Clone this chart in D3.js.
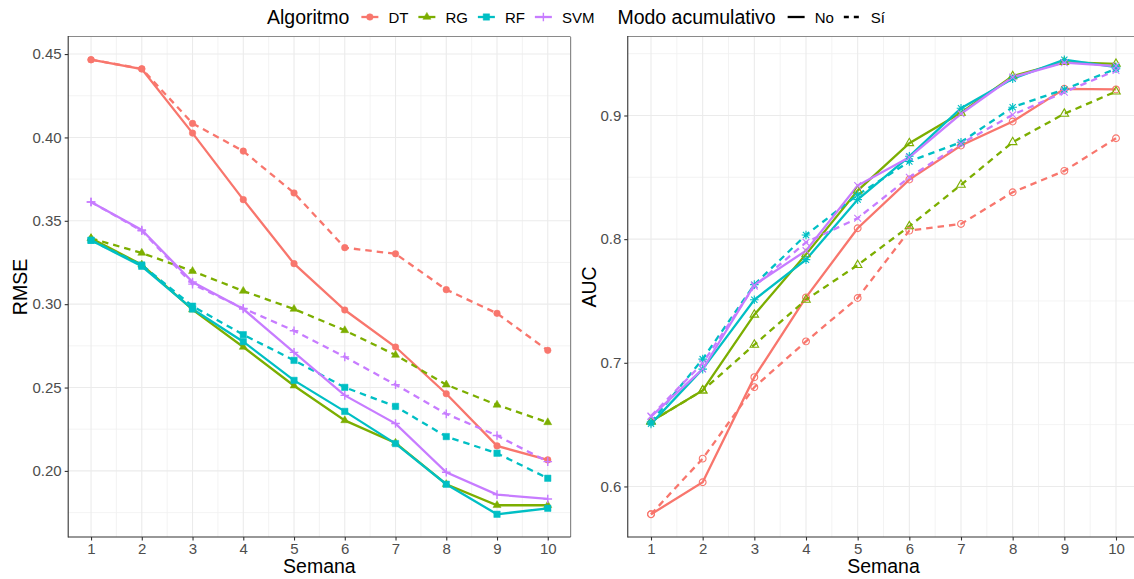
<!DOCTYPE html>
<html>
<head>
<meta charset="utf-8">
<script src="https://cdn.jsdelivr.net/npm/d3@7/dist/d3.min.js"></script>
<style>
  html, body { margin: 0; padding: 0; background: #ffffff; }
  svg { display: block; font-family: "Liberation Sans", Arial, Helvetica, sans-serif; }
</style>
</head>
<body>
<svg id="chart" width="1134" height="579"></svg>
<script>
// ---- data ----
const semanas = [1, 2, 3, 4, 5, 6, 7, 8, 9, 10];
const algoritmos = ["DT", "RG", "RF", "SVM"];
const modos = ["No", "Sí"];
const colores = ["#F8766D", "#7CAE00", "#00BFC4", "#C77CFF"];

const rmseTicks = [0.20, 0.25, 0.30, 0.35, 0.40, 0.45];
const aucTicks = [0.6, 0.7, 0.8, 0.9];

// RMSE por semana
const rmseDT_No  = [0.4466, 0.4410, 0.4026, 0.3627, 0.3243, 0.2965, 0.2743, 0.2463, 0.2150, 0.2066];
const rmseDT_Si  = [0.4466, 0.4412, 0.4084, 0.3918, 0.3667, 0.3339, 0.3302, 0.3087, 0.2945, 0.2723];
const rmseRG_No  = [0.3395, 0.3237, 0.2967, 0.2743, 0.2511, 0.2303, 0.2168, 0.1920, 0.1794, 0.1794];
const rmseRG_Si  = [0.3395, 0.3307, 0.3198, 0.3079, 0.2971, 0.2843, 0.2695, 0.2517, 0.2396, 0.2291];
const rmseRF_No  = [0.3383, 0.3227, 0.2971, 0.2775, 0.2543, 0.2357, 0.2164, 0.1920, 0.1740, 0.1776];
const rmseRF_Si  = [0.3383, 0.3235, 0.2988, 0.2817, 0.2663, 0.2501, 0.2387, 0.2206, 0.2106, 0.1956];
const rmseSVM_No = [0.3613, 0.3445, 0.3133, 0.2971, 0.2711, 0.2453, 0.2284, 0.1992, 0.1858, 0.1832];
const rmseSVM_Si = [0.3613, 0.3440, 0.3120, 0.2975, 0.2841, 0.2684, 0.2517, 0.2342, 0.2212, 0.2056];

// AUC por semana
const aucDT_No  = [0.5775, 0.6034, 0.6884, 0.7529, 0.8088, 0.8482, 0.8757, 0.8951, 0.9216, 0.9211];
const aucDT_Si  = [0.5775, 0.6225, 0.6803, 0.7173, 0.7524, 0.8069, 0.8123, 0.8379, 0.8552, 0.8816];
const aucRG_No  = [0.6525, 0.6776, 0.7389, 0.7877, 0.8393, 0.8776, 0.9022, 0.9318, 0.9432, 0.9418];
const aucRG_Si  = [0.6525, 0.6776, 0.7146, 0.7510, 0.7790, 0.8104, 0.8439, 0.8784, 0.9014, 0.9194];
const aucRF_No  = [0.6506, 0.6949, 0.7510, 0.7834, 0.8320, 0.8670, 0.9059, 0.9297, 0.9451, 0.9391];
const aucRF_Si  = [0.6520, 0.7030, 0.7632, 0.8034, 0.8358, 0.8628, 0.8784, 0.9067, 0.9211, 0.9378];
const aucSVM_No = [0.6565, 0.6950, 0.7629, 0.7907, 0.8433, 0.8662, 0.9014, 0.9310, 0.9427, 0.9400];
const aucSVM_Si = [0.6570, 0.6997, 0.7620, 0.7974, 0.8169, 0.8500, 0.8771, 0.9006, 0.9189, 0.9364];

// series tables built from the arrays above
const rmseSeries = [
  ["DT", "No", rmseDT_No], ["DT", "Sí", rmseDT_Si],
  ["RG", "No", rmseRG_No], ["RG", "Sí", rmseRG_Si],
  ["RF", "No", rmseRF_No], ["RF", "Sí", rmseRF_Si],
  ["SVM", "No", rmseSVM_No], ["SVM", "Sí", rmseSVM_Si]
].map(([alg, modo, vals]) => ({ alg, modo, values: vals.map((v, i) => ({ x: semanas[i], y: v })) }));

const aucSeries = [
  ["DT", "No", aucDT_No], ["DT", "Sí", aucDT_Si],
  ["RG", "No", aucRG_No], ["RG", "Sí", aucRG_Si],
  ["RF", "No", aucRF_No], ["RF", "Sí", aucRF_Si],
  ["SVM", "No", aucSVM_No], ["SVM", "Sí", aucSVM_Si]
].map(([alg, modo, vals]) => ({ alg, modo, values: vals.map((v, i) => ({ x: semanas[i], y: v })) }));

// ---- drawing helpers ----
const color = d3.scaleOrdinal().domain(algoritmos).range(colores);
const dashFor = d3.scaleOrdinal().domain(modos).range(["none", "6.5,5"]);

// marker paths centred on 0,0
const shapePath = {
  circle: r => `M${-r},0A${r},${r} 0 1,0 ${r},0A${r},${r} 0 1,0 ${-r},0Z`,
  triangle: s => {
    const h = s / Math.sqrt(3);
    return `M0,${-h}L${s / 2},${h / 2}L${-s / 2},${h / 2}Z`;
  },
  square: s => `M${-s / 2},${-s / 2}h${s}v${s}h${-s}Z`,
  plus: a => `M${-a},0H${a}M0,${-a}V${a}`,
  cross: a => `M${-a},${-a}L${a},${a}M${-a},${a}L${a},${-a}`,
  asterisk: a => {
    const d = a * 0.72;
    return `M${-a},0H${a}M0,${-a}V${a}M${-d},${-d}L${d},${d}M${-d},${d}L${d},${-d}`;
  }
};

// filled markers (RMSE panel) and open markers (AUC panel)
const filledMarker = {
  DT:  { d: shapePath.circle(3.3), fill: true },
  RG:  { d: shapePath.triangle(8), fill: true },
  RF:  { d: shapePath.square(6.4), fill: true },
  SVM: { d: shapePath.plus(4.3), fill: false, sw: 1.4 }
};
const openMarker = {
  DT:  { d: shapePath.circle(3.4), fill: false, sw: 1.1 },
  RG:  { d: shapePath.triangle(8.5), fill: false, sw: 1.1 },
  RF:  { d: shapePath.asterisk(4.3), fill: false, sw: 1.1 },
  SVM: { d: shapePath.cross(3.4), fill: false, sw: 1.1 }
};

const svg = d3.select("#chart");
const panelTop = 37, panelBottom = 537;

function expanded(series) {
  const all = series.flatMap(s => s.values.map(v => v.y));
  const [lo, hi] = d3.extent(all);
  const pad = (hi - lo) * 0.05;
  return [lo - pad, hi + pad];
}

function drawPanel(opts) {
  const { series, left, right, ticks, fmt, markers, title } = opts;
  const x = d3.scaleLinear().domain([0.55, 10.45]).range([left, right]);
  const y = d3.scaleLinear().domain(expanded(series)).range([panelBottom, panelTop]);
  const g = svg.append("g");

  // panel background
  g.append("rect").attr("x", left).attr("y", panelTop)
    .attr("width", right - left).attr("height", panelBottom - panelTop)
    .attr("fill", "#ffffff");

  // minor grid
  const xMinor = d3.range(1.5, 10, 1);
  const yStep = ticks[1] - ticks[0];
  const yMinor = d3.range(ticks[0] - yStep / 2, ticks[ticks.length - 1] + yStep, yStep)
    .filter(v => v > y.domain()[0] && v < y.domain()[1]);
  g.selectAll(".vminor").data(xMinor).join("line")
    .attr("x1", d => x(d)).attr("x2", d => x(d))
    .attr("y1", panelTop).attr("y2", panelBottom)
    .attr("stroke", "#f0f0f0").attr("stroke-width", 0.8);
  g.selectAll(".hminor").data(yMinor).join("line")
    .attr("x1", left).attr("x2", right)
    .attr("y1", d => y(d)).attr("y2", d => y(d))
    .attr("stroke", "#f0f0f0").attr("stroke-width", 0.8);
  // major grid
  g.selectAll(".vmajor").data(semanas).join("line")
    .attr("x1", d => x(d)).attr("x2", d => x(d))
    .attr("y1", panelTop).attr("y2", panelBottom)
    .attr("stroke", "#ebebeb").attr("stroke-width", 1.1);
  g.selectAll(".hmajor").data(ticks).join("line")
    .attr("x1", left).attr("x2", right)
    .attr("y1", d => y(d)).attr("y2", d => y(d))
    .attr("stroke", "#ebebeb").attr("stroke-width", 1.1);

  // lines
  const line = d3.line().x(d => x(d.x)).y(d => y(d.y));
  g.selectAll(".serie").data(series).join("path")
    .attr("d", d => line(d.values))
    .attr("fill", "none")
    .attr("stroke", d => color(d.alg))
    .attr("stroke-width", 2.3)
    .attr("stroke-dasharray", d => dashFor(d.modo));

  // points
  series.forEach(s => {
    const m = markers[s.alg];
    g.selectAll(null).data(s.values).join("path")
      .attr("transform", d => `translate(${x(d.x)},${y(d.y)})`)
      .attr("d", m.d)
      .attr("fill", m.fill ? color(s.alg) : "none")
      .attr("stroke", color(s.alg))
      .attr("stroke-width", m.fill ? 0.5 : m.sw);
  });

  // panel border
  g.append("line").attr("x1", left).attr("x2", right).attr("y1", panelTop - 0.5).attr("y2", panelTop - 0.5)
    .attr("stroke", "#8a8a8a").attr("stroke-width", 1.2);
  g.append("line").attr("x1", right).attr("x2", right).attr("y1", panelTop).attr("y2", panelBottom)
    .attr("stroke", "#8a8a8a").attr("stroke-width", 1.2);
  g.append("line").attr("x1", left).attr("x2", left).attr("y1", panelTop - 1).attr("y2", panelBottom + 0.5)
    .attr("stroke", "#333333").attr("stroke-width", 1.1);
  g.append("line").attr("x1", left).attr("x2", right).attr("y1", panelBottom).attr("y2", panelBottom)
    .attr("stroke", "#333333").attr("stroke-width", 1.1);

  // axes
  const xAxis = g.append("g").attr("transform", `translate(0,${panelBottom})`)
    .call(d3.axisBottom(x).tickValues(semanas).tickSize(3.5).tickPadding(3).tickFormat(d3.format("d")));
  const yAxis = g.append("g").attr("transform", `translate(${left},0)`)
    .call(d3.axisLeft(y).tickValues(ticks).tickSize(3.5).tickPadding(3).tickFormat(fmt));
  [xAxis, yAxis].forEach(a => {
    a.select(".domain").remove();
    a.selectAll(".tick line").attr("stroke", "#333333").attr("stroke-width", 1.1);
    a.selectAll(".tick text").attr("fill", "#4d4d4d")
      .style("font-size", "15px").style("font-family", "Liberation Sans, Arial, sans-serif");
  });

  // axis titles
  g.append("text").attr("x", (left + right) / 2).attr("y", 573)
    .attr("text-anchor", "middle").attr("fill", "#000")
    .style("font-size", "19.5px").text("Semana");
  g.append("text")
    .attr("transform", `translate(${opts.titleX},${(panelTop + panelBottom) / 2}) rotate(-90)`)
    .attr("text-anchor", "middle").attr("fill", "#000")
    .style("font-size", "19.5px").text(title);
}

drawPanel({
  series: rmseSeries, left: 68.2, right: 570.6, ticks: rmseTicks,
  fmt: d3.format(".2f"), markers: filledMarker, title: "RMSE", titleX: 27
});
drawPanel({
  series: aucSeries, left: 627.75, right: 1139.25, ticks: aucTicks,
  fmt: d3.format(".1f"), markers: openMarker, title: "AUC", titleX: 596
});

// ---- legend ----
const lg = svg.append("g");
const keyY = 17;
let cx = 267;
function legendTitle(txt) {
  const t = lg.append("text").attr("x", cx).attr("y", 24)
    .attr("fill", "#000").style("font-size", "19.5px").text(txt);
  cx += t.node().getComputedTextLength() + 12;
}
function legendLabel(txt) {
  const t = lg.append("text").attr("x", cx).attr("y", 22.5)
    .attr("fill", "#000").style("font-size", "15px").text(txt);
  cx += t.node().getComputedTextLength() + 10;
}

legendTitle("Algoritmo");
algoritmos.forEach(a => {
  const m = filledMarker[a];
  lg.append("line").attr("x1", cx).attr("x2", cx + 17).attr("y1", keyY).attr("y2", keyY)
    .attr("stroke", color(a)).attr("stroke-width", 2.3);
  lg.append("path").attr("transform", `translate(${cx + 8.5},${keyY})`)
    .attr("d", m.d).attr("fill", m.fill ? color(a) : "none")
    .attr("stroke", color(a)).attr("stroke-width", m.fill ? 0.5 : m.sw);
  cx += 27;
  legendLabel(a);
});
cx += 13;
legendTitle("Modo acumulativo");
modos.forEach(mo => {
  lg.append("line").attr("x1", cx).attr("x2", cx + 17).attr("y1", keyY).attr("y2", keyY)
    .attr("stroke", "#000").attr("stroke-width", 2.3)
    .attr("stroke-dasharray", mo === "No" ? "none" : "5,5");
  cx += 27;
  legendLabel(mo);
});
</script>
</body>
</html>
